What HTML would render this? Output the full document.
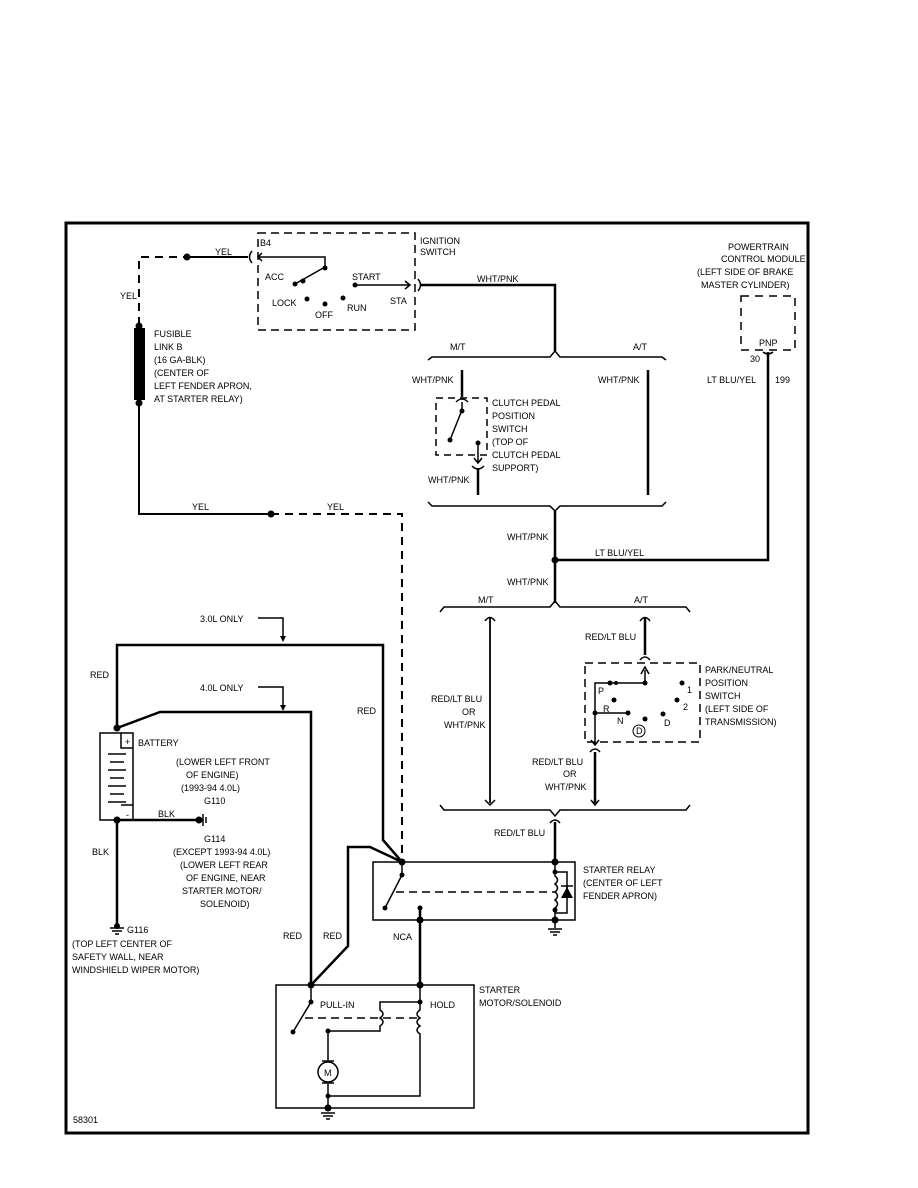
<!DOCTYPE html>
<html><head><meta charset="utf-8"><style>
html,body{margin:0;padding:0;background:#fff;}
svg{display:block;}
text{font-family:"Liberation Sans",sans-serif;font-size:9px;fill:#000;}
</style></head><body>
<svg width="918" height="1188" viewBox="0 0 918 1188" xmlns="http://www.w3.org/2000/svg">
<rect x="66" y="223" width="742" height="910" fill="none" stroke="#000" stroke-width="3"/>
<g fill="none" stroke="#000" stroke-width="1.5">
<!-- yellow feed -->
<path d="M139 325 V257 H187" stroke-dasharray="8,6" stroke-width="2"/>
<path d="M187 257 H248" stroke-width="2"/>
<path d="M252 251 Q247 257 252 263"/>
<path d="M139 400 V514 H271" stroke-width="2"/>
<path d="M271 514 H402 V860" stroke-dasharray="8,6" stroke-width="2"/>
<!-- ignition switch -->
<rect x="258" y="233" width="157" height="97" stroke-dasharray="8,5"/>
<path d="M258 257 H325 V267"/>
<path d="M262 253 L258 257 L262 261"/>
<path d="M295 284 L325 267"/>
<path d="M355 285 H410 M405 281 L410 285 L405 289"/>
<path d="M418 279 Q423 285 418 291" />
<path d="M421 285 H555 V352" stroke-width="2.5"/>
<!-- M/T A/T bracket 1 -->
<path d="M428 360 L432 357 H550 L555 351 L560 357 H662 L666 360"/>
<path d="M462 370 V397" stroke-width="2.5"/>
<path d="M456 402 Q462 396 468 402"/>
<rect x="436" y="398" width="51" height="57" stroke-dasharray="7,5"/>
<path d="M462 402 V410 L450 440"/>
<path d="M478 443 V462 M474 458 L478 463 L482 458"/>
<path d="M472 466 Q478 472 484 466"/>
<path d="M478 468 V495" stroke-width="2.5"/>
<path d="M648 370 V495" stroke-width="2.5"/>
<path d="M428 502 L432 506 H550 L555 511 L560 506 H662 L666 502"/>
<path d="M555 511 V603" stroke-width="2.5"/>
<path d="M555 560 H768 V352" stroke-width="2.5"/>
<rect x="741" y="296" width="54" height="54" stroke-dasharray="8,6"/>
<path d="M763 352 Q768 356 773 352"/>
<!-- bracket 2 -->
<path d="M440 612 L444 607 H550 L555 601 L560 607 H686 L690 612"/>
<path d="M490 618 V803" stroke-width="1.8"/>
<path d="M485 621 Q490 614 495 621 M485 800 L490 805 L495 800"/>
<path d="M645 618 V655" stroke-width="2.5"/>
<path d="M640 621 Q645 614 650 621 M640 660 Q645 654 650 660"/>
<rect x="585" y="663" width="115" height="79" stroke-dasharray="8,5"/>
<path d="M645 670 V683 H595 V745 M591 740 L595 745 L599 740 M641 674 L645 667 L649 674"/>
<path d="M595 713 H627"/>
<path d="M590 752 Q595 746 600 752"/>
<path d="M595 752 V803" stroke-width="2.5"/>
<path d="M591 800 L595 805 L599 800"/>
<path d="M440 805 L444 810 H550 L555 816 L560 810 H686 L690 805"/>
<path d="M550 823 Q555 817 560 823"/>
<path d="M555 822 V862" stroke-width="2.5"/>
<!-- red wires -->
<path d="M117 728 V645 H383 V840 L402 862" stroke-width="2.5"/>
<path d="M258 618 H283 V640"/>
<path d="M258 687 H283 V708"/>
<path d="M117 728 L160 712 H311 V985" stroke-width="2.5"/>
<path d="M402 862 L370 847 H348 V946 L311 985" stroke-width="2.5"/>
<!-- battery -->
<rect x="100" y="733" width="33" height="87"/>
<path d="M121 733 V748 H133 M121 805 H133"/>
<path d="M108 754 H126 M110 762 H124 M108 770 H126 M110 778 H124 M108 786 H126 M110 794 H124 M108 802 H126"/>
<path d="M117 820 V925" stroke-width="2.5"/>
<path d="M117 820 H200" stroke-width="2.5"/>
<path d="M203 814 V826 M206 817 V823"/>
<path d="M110 928 H124 M112 931 H122 M115 934 H119"/>
<!-- starter relay -->
<rect x="373" y="862" width="202" height="58"/>
<path d="M402 862 V875 L385 908"/>
<path d="M396 892 H555" stroke-dasharray="8,5"/>
<path d="M420 908 V985" stroke-width="2.5"/>
<path d="M555 862 V876 Q560 880 555 884 Q560 888 555 892 Q560 896 555 900 Q560 904 555 908 V920"/>
<path d="M555 872 H567 V913 H555"/>
<path d="M561 886 L573 886 M567 886 V898"/>
<path d="M555 920 V928 M548 929 H562 M550 932 H560 M553 935 H557"/>
<!-- starter -->
<rect x="276" y="985" width="198" height="123"/>
<path d="M311 985 V1002 L293 1032"/>
<path d="M305 1018 H420" stroke-dasharray="8,5"/>
<path d="M420 985 V1002 H380 V1010 Q386 1014 380 1018 Q386 1022 380 1026 V1031 H328 V1060"/>
<path d="M420 1002 V1010 Q414 1014 420 1018 Q414 1022 420 1026 Q414 1030 420 1034 V1096 H328"/>
<circle cx="328" cy="1072" r="10"/>
<path d="M322 1061 H334 M322 1083 H334 M328 1084 V1108"/>
<path d="M321 1113 H335 M323 1116 H333 M326 1119 H330"/>
</g>
<g fill="#000">
<rect x="134" y="328" width="11" height="72"/>
<circle cx="187" cy="257" r="3.5"/><circle cx="139" cy="326" r="3.5"/><circle cx="139" cy="403" r="3.5"/>
<circle cx="271" cy="514" r="3.5"/>
<circle cx="295" cy="284" r="2.5"/><circle cx="303" cy="281" r="2.5"/><circle cx="325" cy="268" r="2.5"/>
<circle cx="355" cy="285" r="2.5"/><circle cx="307" cy="299" r="2.5"/><circle cx="325" cy="304" r="2.5"/><circle cx="343" cy="298" r="2.5"/>
<circle cx="462" cy="411" r="2.5"/><circle cx="450" cy="440" r="2.5"/><circle cx="478" cy="443" r="2.5"/>
<circle cx="555" cy="560" r="3.5"/>
<circle cx="610" cy="683" r="2.5"/><circle cx="616" cy="683" r="2"/><circle cx="645" cy="683" r="2.5"/><circle cx="682" cy="683" r="2.5"/>
<circle cx="614" cy="700" r="2.5"/><circle cx="677" cy="700" r="2.5"/><circle cx="595" cy="713" r="2.5"/><circle cx="628" cy="713" r="2.5"/>
<circle cx="645" cy="719" r="2.5"/><circle cx="663" cy="714" r="2.5"/>
<circle cx="117" cy="728" r="3.5"/><circle cx="117" cy="820" r="3.5"/><circle cx="199" cy="820" r="3.5"/><circle cx="117" cy="926" r="3"/>
<path d="M280 636 L286 636 L283 642Z"/><path d="M280 705 L286 705 L283 711Z"/>
<circle cx="402" cy="862" r="3.5"/><circle cx="402" cy="875" r="2.5"/><circle cx="385" cy="908" r="2.5"/>
<circle cx="420" cy="908" r="2.5"/><circle cx="420" cy="920" r="3.5"/><circle cx="555" cy="862" r="3.5"/><circle cx="555" cy="920" r="3.5"/>
<circle cx="555" cy="872" r="2.5"/><circle cx="555" cy="910" r="2.5"/>
<path d="M561 898 L573 898 L567 887Z"/>
<circle cx="311" cy="985" r="3.5"/><circle cx="420" cy="985" r="3.5"/><circle cx="311" cy="1002" r="2.5"/><circle cx="293" cy="1032" r="2.5"/>
<circle cx="420" cy="1002" r="2.5"/><circle cx="328" cy="1031" r="2.5"/><circle cx="328" cy="1096" r="2.5"/><circle cx="328" cy="1108" r="3.5"/>
</g>
<circle cx="639" cy="731" r="6" fill="none" stroke="#000"/>
<text x="215" y="255">YEL</text>
<text x="120" y="299">YEL</text>
<text x="260" y="246">B4</text>
<text x="420" y="244">IGNITION</text><text x="420" y="255">SWITCH</text>
<text x="265" y="280">ACC</text><text x="352" y="280">START</text>
<text x="272" y="306">LOCK</text><text x="315" y="318">OFF</text><text x="347" y="311">RUN</text><text x="390" y="304">STA</text>
<text x="477" y="282">WHT/PNK</text>
<text x="154" y="337">FUSIBLE</text><text x="154" y="350">LINK B</text><text x="154" y="363">(16 GA-BLK)</text>
<text x="154" y="376">(CENTER OF</text><text x="154" y="389">LEFT FENDER APRON,</text><text x="154" y="402">AT STARTER RELAY)</text>
<text x="450" y="350">M/T</text><text x="633" y="350">A/T</text>
<text x="412" y="383">WHT/PNK</text><text x="598" y="383">WHT/PNK</text>
<text x="492" y="406">CLUTCH PEDAL</text><text x="492" y="419">POSITION</text><text x="492" y="432">SWITCH</text>
<text x="492" y="445">(TOP OF</text><text x="492" y="458">CLUTCH PEDAL</text><text x="492" y="471">SUPPORT)</text>
<text x="428" y="483">WHT/PNK</text>
<text x="728" y="250">POWERTRAIN</text><text x="721" y="262">CONTROL MODULE</text>
<text x="697" y="275">(LEFT SIDE OF BRAKE</text><text x="701" y="288">MASTER CYLINDER)</text>
<text x="759" y="346">PNP</text><text x="750" y="362">30</text>
<text x="707" y="383">LT BLU/YEL</text><text x="775" y="383">199</text>
<text x="192" y="510">YEL</text><text x="327" y="510">YEL</text>
<text x="507" y="540">WHT/PNK</text><text x="595" y="556">LT BLU/YEL</text>
<text x="507" y="585">WHT/PNK</text>
<text x="478" y="603">M/T</text><text x="634" y="603">A/T</text>
<text x="585" y="640">RED/LT BLU</text>
<text x="200" y="622">3.0L ONLY</text><text x="200" y="691">4.0L ONLY</text>
<text x="90" y="678">RED</text><text x="357" y="714">RED</text>
<text x="431" y="702">RED/LT BLU</text><text x="462" y="715">OR</text><text x="444" y="728">WHT/PNK</text>
<text x="705" y="673">PARK/NEUTRAL</text><text x="705" y="686">POSITION</text><text x="705" y="699">SWITCH</text>
<text x="705" y="712">(LEFT SIDE OF</text><text x="705" y="725">TRANSMISSION)</text>
<text x="598" y="694">P</text><text x="603" y="712">R</text><text x="617" y="724">N</text><text x="664" y="726">D</text>
<text x="687" y="693">1</text><text x="683" y="710">2</text><text x="636" y="734" font-size="8">D</text>
<text x="138" y="746">BATTERY</text>
<text x="176" y="765">(LOWER LEFT FRONT</text><text x="186" y="778">OF ENGINE)</text>
<text x="181" y="791">(1993-94 4.0L)</text><text x="204" y="804">G110</text>
<text x="158" y="817">BLK</text>
<text x="532" y="765">RED/LT BLU</text><text x="563" y="777">OR</text><text x="545" y="790">WHT/PNK</text>
<text x="204" y="842">G114</text>
<text x="173" y="855">(EXCEPT 1993-94 4.0L)</text><text x="180" y="868">(LOWER LEFT REAR</text>
<text x="186" y="881">OF ENGINE, NEAR</text><text x="182" y="894">STARTER MOTOR/</text><text x="200" y="907">SOLENOID)</text>
<text x="92" y="855">BLK</text>
<text x="494" y="836">RED/LT BLU</text>
<text x="583" y="873">STARTER RELAY</text><text x="583" y="886">(CENTER OF LEFT</text><text x="583" y="899">FENDER APRON)</text>
<text x="127" y="933">G116</text>
<text x="72" y="947">(TOP LEFT CENTER OF</text><text x="72" y="960">SAFETY WALL, NEAR</text><text x="72" y="973">WINDSHIELD WIPER MOTOR)</text>
<text x="283" y="939">RED</text><text x="323" y="939">RED</text><text x="393" y="940">NCA</text>
<text x="479" y="993">STARTER</text><text x="479" y="1006">MOTOR/SOLENOID</text>
<text x="320" y="1008">PULL-IN</text><text x="430" y="1008">HOLD</text>
<text x="324" y="1076" font-size="9">M</text>
<text x="73" y="1123">58301</text>
<text x="125" y="745" font-size="10">+</text><text x="126" y="818">-</text>
</svg>
</body></html>
